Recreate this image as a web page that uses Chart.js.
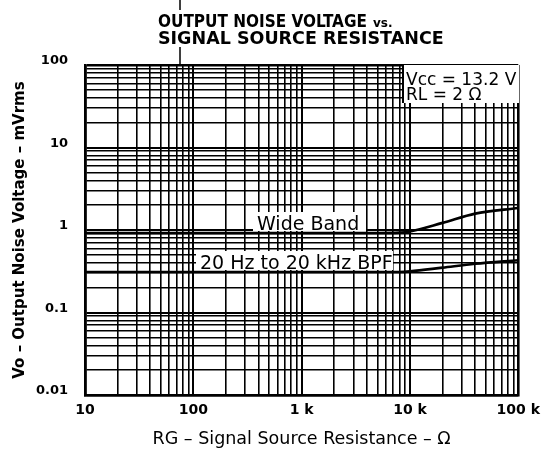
<!DOCTYPE html>
<html>
<head>
<meta charset="utf-8">
<script src="https://cdn.jsdelivr.net/npm/chart.js@4.4.1/dist/chart.umd.min.js"></script>
<style>
  html, body { margin: 0; padding: 0; background: #fff; }
  #wrap { width: 547px; height: 463px; }
</style>
</head>
<body>
<div id="wrap"><canvas id="noise" width="547" height="463"></canvas></div>
<script>
// values (log-log)
const sourceResistance = [10, 100, 1000, 5000, 8000, 10000, 20000, 40000, 100000];
const wideBand = [0.92, 0.92, 0.92, 0.92, 0.93, 0.96, 1.22, 1.58, 1.85];
const bpf = [0.31, 0.31, 0.31, 0.31, 0.31, 0.315, 0.35, 0.39, 0.43];

const xTickValues = [10, 100, 1000, 10000, 100000];
const xTickLabels = ["10", "100", "1 k", "10 k", "100 k"];
const yTickValues = [0.01, 0.1, 1, 10, 100];
const yTickLabels = ["0.01", "0.1", "1", "10", "100"];

const titleLines = ["OUTPUT NOISE VOLTAGE", "vs.", "SIGNAL SOURCE RESISTANCE"];
const FONT = '"DejaVu Sans", "Liberation Sans", Arial, sans-serif';

// 1..9 x 10^n grid between the decade ticks
function decadeGrid(decades) {
  const out = [];
  for (let i = 0; i < decades.length - 1; i++) {
    for (let m = 1; m < 10; m++) out.push(+(decades[i] * m).toPrecision(6));
  }
  out.push(decades[decades.length - 1]);
  return out;
}

function labelFor(values, labels) {
  return (value) => {
    const i = values.findIndex((t) => Math.abs(t - value) / t < 1e-6);
    return i >= 0 ? labels[i] : "";
  };
}

function gridWidth(values) {
  return (c) => {
    if (!c.tick) return 1.6;
    const v = c.tick.value;
    if (v === values[0] || v === values[values.length - 1]) return 2.6;
    return values.some((t) => Math.abs(t - v) / t < 1e-6) ? 2 : 1.6;
  };
}

const titlePlugin = {
  id: "scanTitle",
  afterDraw(chart) {
    const ctx = chart.ctx;
    ctx.save();
    ctx.fillStyle = "#000";
    ctx.textAlign = "left";
    ctx.textBaseline = "alphabetic";
    ctx.font = 'bold 17px "DejaVu Sans Condensed", ' + FONT;
    ctx.fillText(titleLines[0], 158, 27);
    const w = ctx.measureText(titleLines[0]).width;
    ctx.font = "bold 12px " + FONT;
    ctx.fillText(titleLines[1], 158 + w + 6, 27);
    ctx.font = "bold 17.5px " + FONT;
    ctx.fillText(titleLines[2], 158, 44);
    // stray vertical stroke on the scan
    ctx.strokeStyle = "#000";
    ctx.lineWidth = 1.5;
    ctx.beginPath();
    ctx.moveTo(180, 0);
    ctx.lineTo(180, 10);
    ctx.moveTo(180, 47);
    ctx.lineTo(180, chart.chartArea.top);
    ctx.stroke();
    ctx.restore();
  },
};

// text boxes printed on top of the grid
const notes = [
  { lines: ["Vcc = 13.2 V", "RL = 2 Ω"], box: [403, 65, 116, 38], at: [406, 85], step: 15, size: 17 },
  { lines: ["Wide Band"], box: [253, 212, 113, 19], at: [257, 230], step: 0, size: 19 },
  { lines: ["20 Hz to 20 kHz BPF"], box: [196, 251, 197, 19], at: [200, 269], step: 0, size: 19 },
];

const notesPlugin = {
  id: "notes",
  beforeDatasetsDraw(chart) {
    const ctx = chart.ctx;
    ctx.save();
    notes.forEach((n) => {
      ctx.fillStyle = "#fff";
      ctx.fillRect(n.box[0], n.box[1], n.box[2], n.box[3]);
      ctx.fillStyle = "#000";
      ctx.font = n.size + "px " + FONT;
      ctx.textAlign = "left";
      ctx.textBaseline = "alphabetic";
      n.lines.forEach((t, i) => ctx.fillText(t, n.at[0], n.at[1] + i * n.step));
    });
    // box outline for the Vcc note
    ctx.strokeStyle = "#000";
    ctx.lineWidth = 2;
    ctx.beginPath();
    ctx.moveTo(403, 65);
    ctx.lineTo(403, 103);
    ctx.stroke();
    ctx.restore();
  },
};

const ctx = document.getElementById("noise").getContext("2d");

new Chart(ctx, {
  type: "line",
  data: {
    datasets: [
      {
        label: "Wide Band",
        data: sourceResistance.map((r, i) => ({ x: r, y: wideBand[i] })),
        borderColor: "#000",
        borderWidth: 2.6,
        pointRadius: 0,
        cubicInterpolationMode: "monotone",
      },
      {
        label: "20 Hz to 20 kHz BPF",
        data: sourceResistance.map((r, i) => ({ x: r, y: bpf[i] })),
        borderColor: "#000",
        borderWidth: 2.6,
        pointRadius: 0,
        cubicInterpolationMode: "monotone",
      },
    ],
  },
  plugins: [notesPlugin, titlePlugin],
  options: {
    responsive: false,
    animation: false,
    layout: { padding: { top: 65, right: 28, left: 0, bottom: 0 } },
    plugins: {
      legend: { display: false },
      tooltip: { enabled: false },
    },
    scales: {
      x: {
        type: "logarithmic",
        min: 10,
        max: 100000,
        afterBuildTicks: (s) => { s.ticks = decadeGrid(xTickValues).map((v) => ({ value: v })); },
        afterFit: (s) => { s.height = 68; },
        grid: { color: "#000", lineWidth: gridWidth(xTickValues), drawTicks: false },
        border: { display: true, color: "#000", width: 2.6 },
        ticks: {
          autoSkip: false,
          maxRotation: 0,
          padding: 7,
          color: "#000",
          font: { family: FONT, size: 14, weight: "bold" },
          callback: labelFor(xTickValues, xTickLabels),
        },
        title: {
          display: true,
          text: "RG – Signal Source Resistance – Ω",
          color: "#000",
          font: { family: FONT, size: 17.5 },
          padding: { top: 0, bottom: 13 },
        },
      },
      y: {
        type: "logarithmic",
        min: 0.01,
        max: 100,
        afterBuildTicks: (s) => { s.ticks = decadeGrid(yTickValues).map((v) => ({ value: v })); },
        afterFit: (s) => { s.width = 85; },
        grid: { color: "#000", lineWidth: gridWidth(yTickValues), drawTicks: false },
        border: { display: true, color: "#000", width: 2.6 },
        ticks: {
          autoSkip: false,
          padding: 17,
          labelOffset: -4,
          color: "#000",
          font: { family: FONT, size: 13, weight: "bold" },
          callback: labelFor(yTickValues, yTickLabels),
        },
        title: {
          display: true,
          text: "Vo – Output Noise Voltage – mVrms",
          color: "#000",
          font: { family: FONT, size: 15, weight: "bold" },
          padding: { top: 11, bottom: 0 },
        },
      },
    },
  },
});
</script>
</body>
</html>
